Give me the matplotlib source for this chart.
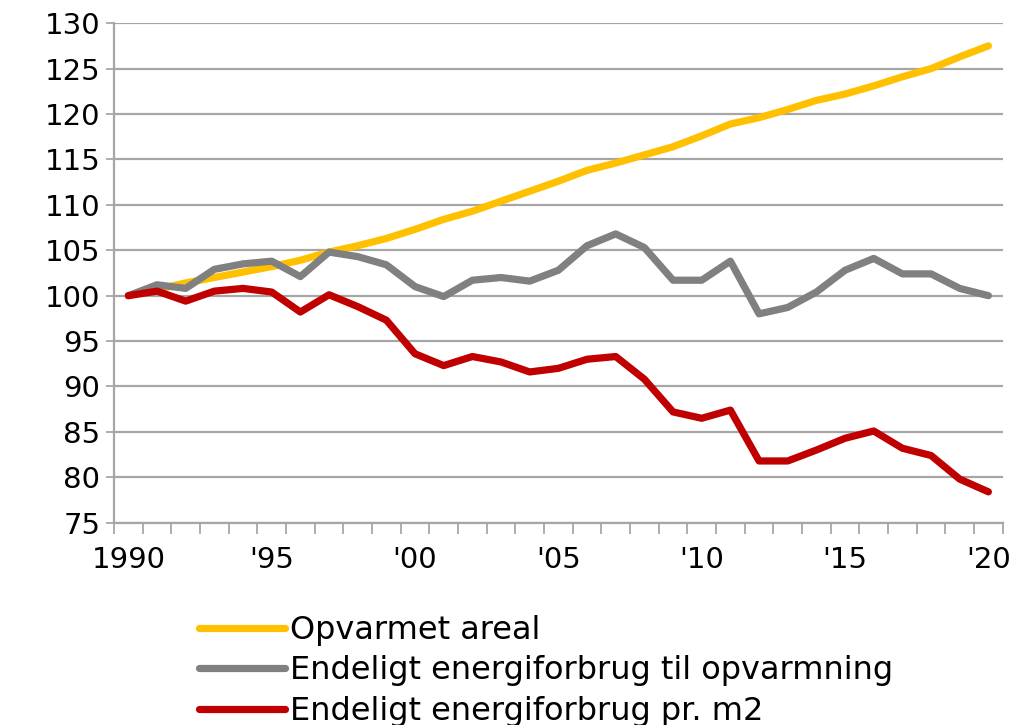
import matplotlib.pyplot as plt
from matplotlib.ticker import MultipleLocator

years = list(range(1990, 2021))

areal = [100, 100.7, 101.4, 102.0, 102.6, 103.2, 103.9, 104.8, 105.5, 106.3,
         107.3, 108.4, 109.3, 110.4, 111.5, 112.6, 113.8, 114.6, 115.5, 116.4,
         117.6, 118.9, 119.6, 120.5, 121.5, 122.2, 123.1, 124.1, 125.0, 126.3,
         127.5]
opvarmning = [100, 101.2, 100.8, 102.9, 103.5, 103.8, 102.1, 104.8, 104.3, 103.4,
              101.0, 99.9, 101.7, 102.0, 101.6, 102.8, 105.5, 106.8, 105.3, 101.7,
              101.7, 103.8, 98.0, 98.7, 100.4, 102.8, 104.1, 102.4, 102.4, 100.8,
              100.0]
pr_m2 = [100, 100.5, 99.4, 100.5, 100.8, 100.4, 98.2, 100.1, 98.8, 97.3,
         93.6, 92.3, 93.3, 92.7, 91.6, 92.0, 93.0, 93.3, 90.8, 87.2,
         86.5, 87.4, 81.8, 81.8, 83.0, 84.3, 85.1, 83.2, 82.4, 79.8,
         78.4]

labels = ["Opvarmet areal",
          "Endeligt energiforbrug til opvarmning",
          "Endeligt energiforbrug pr. m2"]
colors = ["#FFC000", "#808080", "#C00000"]

tick_years = [1990, 1995, 2000, 2005, 2010, 2015, 2020]
tick_labels = ["1990", "'95", "'00", "'05", "'10", "'15", "'20"]

plt.rcParams["font.family"] = "DejaVu Sans"
fig = plt.figure(figsize=(10.18, 7.25), dpi=100)
ax = fig.add_axes([0.112, 0.279, 0.873, 0.689])

for series, lab, col in zip([areal, opvarmning, pr_m2], labels, colors):
    ax.plot(years, series, color=col, linewidth=5.2, label=lab,
            solid_joinstyle="round", solid_capstyle="round", zorder=3)

ax.set_xlim(1989.5, 2020.5)
ax.set_ylim(75, 130)
ax.yaxis.set_major_locator(MultipleLocator(5))
ax.grid(axis="y", color="#a6a6a6", linewidth=1.6, zorder=1)

ax.set_xticks(tick_years)
ax.set_xticklabels(tick_labels)
ax.set_xticks([y + 0.5 for y in range(1989, 2021)], minor=True)
ax.tick_params(axis="x", which="major", length=0, pad=17, labelsize=21)
ax.tick_params(axis="x", which="minor", length=8, width=1.3, color="#a6a6a6", direction="out")
ax.tick_params(axis="y", length=6, width=1.3, color="#a6a6a6", pad=4, labelsize=21)

for side in ["top", "right"]:
    ax.spines[side].set_visible(False)
for side in ["left", "bottom"]:
    ax.spines[side].set_color("#a6a6a6")
    ax.spines[side].set_linewidth(1.6)

fig.legend(loc="upper left", bbox_to_anchor=(0.195, 0.152), frameon=False,
           fontsize=23, handlelength=2.7, handletextpad=0.15, labelspacing=0.3,
           borderpad=0, borderaxespad=0)

fig.savefig("out.png", dpi=100)
